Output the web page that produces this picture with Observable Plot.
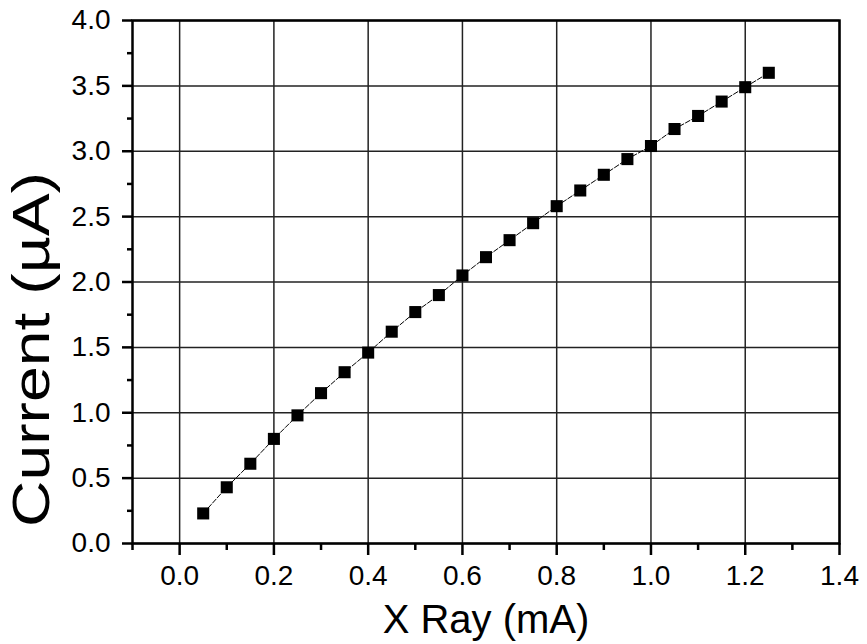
<!DOCTYPE html>
<html>
<head>
<meta charset="utf-8">
<script src="https://cdn.jsdelivr.net/npm/d3@7"></script>
<script src="https://cdn.jsdelivr.net/npm/@observablehq/plot@0.6"></script>
<style>
  html, body { margin: 0; padding: 0; background: white; }
  #chart { width: 867px; height: 644px; }
</style>
</head>
<body>
<div id="chart"></div>
<script>
const xRay = [0.05, 0.10, 0.15, 0.20, 0.25, 0.30, 0.35, 0.40, 0.45, 0.50, 0.55, 0.60, 0.65,
              0.70, 0.75, 0.80, 0.85, 0.90, 0.95, 1.00, 1.05, 1.10, 1.15, 1.20, 1.25];
const current = [0.23, 0.43, 0.61, 0.80, 0.98, 1.15, 1.31, 1.46, 1.62, 1.77, 1.90, 2.05, 2.19,
                 2.32, 2.45, 2.58, 2.70, 2.82, 2.94, 3.04, 3.17, 3.27, 3.38, 3.49, 3.60];
const xTicks = [0.0, 0.2, 0.4, 0.6, 0.8, 1.0, 1.2, 1.4];
const xMinor = [-0.1, 0.1, 0.3, 0.5, 0.7, 0.9, 1.1, 1.3];
const yTicks = [0.0, 0.5, 1.0, 1.5, 2.0, 2.5, 3.0, 3.5, 4.0];
const yMinor = [0.25, 0.75, 1.25, 1.75, 2.25, 2.75, 3.25, 3.75];
const xLabel = "X Ray (mA)";
const yLabel = "Current (\u00B5A)";

const data = xRay.map((x, i) => ({x, y: current[i]}));
const fmt = d => d.toFixed(1);

const chart = Plot.plot({
  width: 867,
  height: 644,
  marginLeft: 132,
  marginRight: 28,
  marginTop: 20,
  marginBottom: 101,
  x: {domain: [-0.1, 1.4]},
  y: {domain: [0, 4]},
  style: {fontFamily: "'Liberation Sans', Arial, sans-serif", background: "white", color: "black"},
  marks: [
    Plot.gridX(xTicks, {stroke: "#222", strokeOpacity: 1, strokeWidth: 1.5}),
    Plot.gridY(yTicks, {stroke: "#222", strokeOpacity: 1, strokeWidth: 1.5}),
    Plot.line(data, {x: "x", y: "y", stroke: "black", strokeWidth: 1, strokeDasharray: "5,2"}),
    Plot.dot(data, {x: "x", y: "y", symbol: "square", fill: "black", stroke: "none", r: 6.8}),
    Plot.frame({stroke: "black", strokeWidth: 2.5}),
    Plot.axisX(xTicks, {tickSize: 12, strokeWidth: 2.5, tickPadding: 10, fontSize: 28, tickFormat: fmt, label: null}),
    Plot.axisX(xMinor, {tickSize: 7, strokeWidth: 2.5, tickFormat: () => "", label: null}),
    Plot.axisY(yTicks, {tickSize: 10, strokeWidth: 2.5, tickPadding: 12, fontSize: 28, tickFormat: fmt, label: null}),
    Plot.axisY(yMinor, {tickSize: 5, strokeWidth: 2.5, tickFormat: () => "", label: null}),
    Plot.text([xLabel], {frameAnchor: "bottom", dy: 89, lineAnchor: "bottom", fontSize: 40, fill: "black"}),
    Plot.text([yLabel], {frameAnchor: "left", dx: -100, dy: 245, rotate: -90, lineAnchor: "middle",
                         textAnchor: "start", fontSize: 52, fill: "black", className: "ylab"})
  ]
});
document.getElementById("chart").appendChild(chart);
const yl = chart.querySelector(".ylab text");
if (yl) {
  yl.setAttribute("textLength", 355);
  yl.setAttribute("lengthAdjust", "spacingAndGlyphs");
}
</script>
</body>
</html>
